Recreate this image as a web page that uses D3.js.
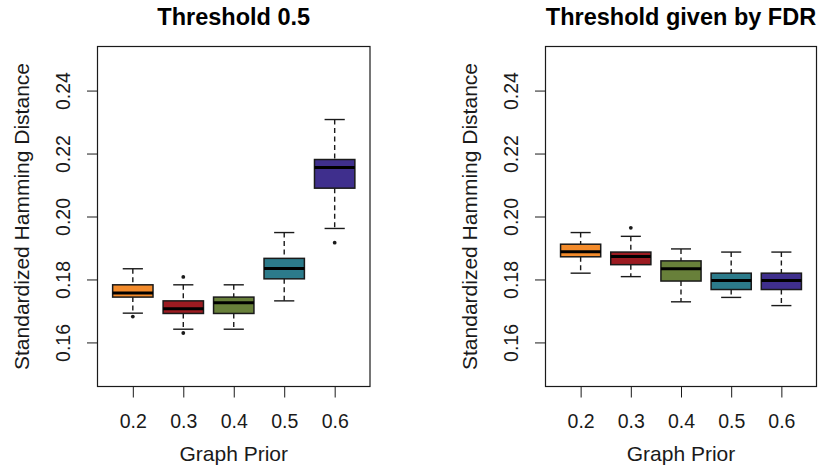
<!DOCTYPE html>
<html>
<head>
<meta charset="utf-8">
<script src="https://cdn.jsdelivr.net/npm/d3@7"></script>
<style>
  html, body { margin: 0; padding: 0; background: #fff; }
  svg { display: block; font-family: "Liberation Sans", Arial, Helvetica, sans-serif; }
</style>
</head>
<body>
<svg id="chart" width="821" height="468"></svg>
<script>
// Graph prior levels on the x axis
const categories = ["0.2", "0.3", "0.4", "0.5", "0.6"];
const boxColors = ["#F38B2B", "#9C1B21", "#68803A", "#2C7B8B", "#3F2F8D"];
const yTicks = [0.16, 0.18, 0.20, 0.22, 0.24];
const yLimits = [0.15, 0.25];

// Box summaries, threshold 0.5: lower whisker, Q1, median, Q3, upper whisker
const fixedLow    = [0.1693, 0.1642, 0.1642, 0.1732, 0.1962];
const fixedQ1     = [0.1744, 0.1692, 0.1692, 0.1802, 0.2090];
const fixedMedian = [0.1757, 0.1707, 0.1726, 0.1835, 0.2156];
const fixedQ3     = [0.1783, 0.1732, 0.1744, 0.1867, 0.2181];
const fixedHigh   = [0.1834, 0.1783, 0.1783, 0.1949, 0.2308];
const fixedOut    = [[0.1682], [0.1808, 0.1630], [], [], [0.1917]];

// Box summaries, FDR-based threshold
const fdrLow    = [0.1820, 0.1809, 0.1729, 0.1743, 0.1717];
const fdrQ1     = [0.1872, 0.1847, 0.1795, 0.1768, 0.1768];
const fdrMedian = [0.1888, 0.1873, 0.1834, 0.1797, 0.1797];
const fdrQ3     = [0.1912, 0.1887, 0.1859, 0.1820, 0.1820];
const fdrHigh   = [0.1949, 0.1937, 0.1897, 0.1887, 0.1887];
const fdrOut    = [[], [0.1964], [], [], []];

const svg = d3.select("#chart");
const ink = "#1a1a1a";

function panel(opts) {
  const { left, right, top, bottom, title, low, q1, med, q3, high, out } = opts;
  const g = svg.append("g");

  // R-style 4% padding around the axis ranges
  const n = categories.length;
  const xPad = (n - 1 + 1) * 0.04;
  const x = d3.scaleLinear().domain([0.5 - xPad, n + 0.5 + xPad]).range([left, right]);
  const ySpan = yLimits[1] - yLimits[0];
  const y = d3.scaleLinear()
    .domain([yLimits[0] - 0.04 * ySpan, yLimits[1] + 0.04 * ySpan])
    .range([bottom, top]);

  const boxHalf = (x(1.4) - x(1)) ;       // box width 0.8 units
  const capHalf = boxHalf / 2;             // staple width is half the box

  // Axes with outward ticks
  const yAxis = d3.axisLeft(y).tickValues(yTicks).tickSize(10.5).tickFormat(d3.format(".2f"));
  const yg = g.append("g").attr("transform", `translate(${left},0)`).call(yAxis);
  yg.select(".domain").remove();
  yg.selectAll(".tick line").attr("stroke", ink).attr("stroke-width", 1);
  yg.selectAll(".tick text").remove();
  yg.selectAll(".tick").append("text")
    .attr("transform", "translate(-27.5,0) rotate(-90)")
    .attr("text-anchor", "middle")
    .attr("fill", ink)
    .style("font-size", "19.5px")
    .text(d => d3.format(".2f")(d));

  const xAxis = d3.axisBottom(x).tickValues(d3.range(1, n + 1)).tickSize(11)
    .tickFormat((d, i) => categories[i]);
  const xg = g.append("g").attr("transform", `translate(0,${bottom})`).call(xAxis);
  xg.select(".domain").remove();
  xg.selectAll(".tick line").attr("stroke", ink).attr("stroke-width", 1);
  xg.selectAll(".tick text")
    .attr("y", 41).attr("dy", null)
    .attr("fill", ink)
    .style("font-size", "19.5px");

  // Boxes
  const idx = d3.range(n);
  const boxes = g.selectAll("g.box").data(idx).join("g").attr("class", "box");

  boxes.append("line")
    .attr("x1", i => x(i + 1)).attr("x2", i => x(i + 1))
    .attr("y1", i => y(high[i])).attr("y2", i => y(q3[i]))
    .attr("stroke", ink).attr("stroke-width", 1.4).attr("stroke-dasharray", "5,3.5");
  boxes.append("line")
    .attr("x1", i => x(i + 1)).attr("x2", i => x(i + 1))
    .attr("y1", i => y(q1[i])).attr("y2", i => y(low[i]))
    .attr("stroke", ink).attr("stroke-width", 1.4).attr("stroke-dasharray", "5,3.5");
  boxes.append("line")
    .attr("x1", i => x(i + 1) - capHalf).attr("x2", i => x(i + 1) + capHalf)
    .attr("y1", i => y(high[i])).attr("y2", i => y(high[i]))
    .attr("stroke", ink).attr("stroke-width", 1.4);
  boxes.append("line")
    .attr("x1", i => x(i + 1) - capHalf).attr("x2", i => x(i + 1) + capHalf)
    .attr("y1", i => y(low[i])).attr("y2", i => y(low[i]))
    .attr("stroke", ink).attr("stroke-width", 1.4);
  boxes.append("rect")
    .attr("x", i => x(i + 1) - boxHalf)
    .attr("width", 2 * boxHalf)
    .attr("y", i => y(q3[i]))
    .attr("height", i => y(q1[i]) - y(q3[i]))
    .attr("fill", i => boxColors[i])
    .attr("stroke", ink).attr("stroke-width", 1.5);
  boxes.append("line")
    .attr("x1", i => x(i + 1) - boxHalf).attr("x2", i => x(i + 1) + boxHalf)
    .attr("y1", i => y(med[i])).attr("y2", i => y(med[i]))
    .attr("stroke", "#000").attr("stroke-width", 3);

  // Outliers
  const outPts = idx.flatMap(i => out[i].map(v => ({ i, v })));
  g.selectAll("circle.out").data(outPts).join("circle")
    .attr("class", "out")
    .attr("cx", d => x(d.i + 1)).attr("cy", d => y(d.v))
    .attr("r", 1.9).attr("fill", ink);

  // Plot frame
  g.append("rect")
    .attr("x", left).attr("y", top)
    .attr("width", right - left).attr("height", bottom - top)
    .attr("fill", "none").attr("stroke", ink).attr("stroke-width", 1.2);

  // Labels
  const cx = (left + right) / 2;
  g.append("text")
    .attr("x", cx).attr("y", 25)
    .attr("text-anchor", "middle")
    .attr("fill", "#000")
    .style("font-size", "23.5px").style("font-weight", "bold")
    .text(title);
  g.append("text")
    .attr("x", cx).attr("y", 460.5)
    .attr("text-anchor", "middle")
    .attr("fill", ink)
    .style("font-size", "21px")
    .text("Graph Prior");
  g.append("text")
    .attr("transform", `translate(${left - 69},${(top + bottom) / 2}) rotate(-90)`)
    .attr("text-anchor", "middle")
    .attr("fill", ink)
    .style("font-size", "21px")
    .text("Standardized Hamming Distance");
}

panel({
  left: 97.5, right: 370, top: 46.5, bottom: 386.5,
  title: "Threshold 0.5",
  low: fixedLow, q1: fixedQ1, med: fixedMedian, q3: fixedQ3, high: fixedHigh, out: fixedOut
});
panel({
  left: 545.5, right: 816.5, top: 46.5, bottom: 386.5,
  title: "Threshold given by FDR",
  low: fdrLow, q1: fdrQ1, med: fdrMedian, q3: fdrQ3, high: fdrHigh, out: fdrOut
});
</script>
</body>
</html>
